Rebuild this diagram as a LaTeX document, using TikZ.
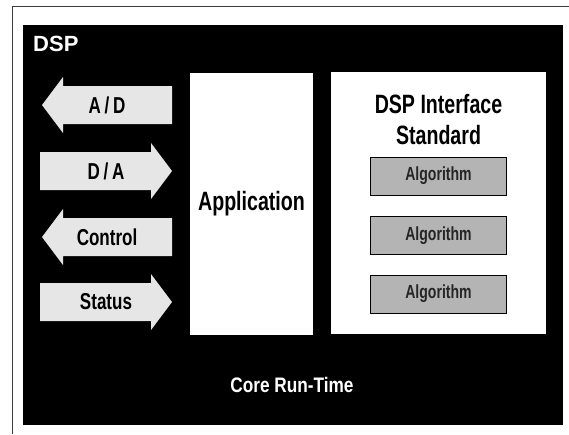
\documentclass[tikz,border=0pt]{standalone}
\usepackage{fontspec}
\setmainfont{Liberation Sans}
\newfontfamily\narrowsf{Liberation Sans}[FakeStretch=0.74]
\newfontfamily\coresf{Liberation Sans}[FakeStretch=0.82]
\usepackage{tikz}
\usetikzlibrary{positioning}
\definecolor{panel}{HTML}{000000}
\definecolor{paper}{HTML}{FFFFFF}
\definecolor{speckle}{HTML}{E6E6E6}
\definecolor{algogray}{HTML}{B4B4B4}
\definecolor{frameline}{HTML}{3C3C3C}
\tikzset{
  layerbox/.style={
    rectangle, fill=#1, draw=none, inner sep=0pt
  },
  layerbox/.default=paper,
  algobox/.style={
    rectangle, draw=black, fill=algogray, thin,
    minimum width=136pt, minimum height=38pt,
    font=\narrowsf\bfseries\fontsize{19}{21}\selectfont,
    text=black!85, inner sep=0pt
  },
  ioarrow/.style={
    fill=speckle, draw=none
  },
  iolabel/.style={
    font=\narrowsf\bfseries\fontsize{23}{25}\selectfont,
    inner sep=0pt
  },
  titletext/.style={
    font=\narrowsf\bfseries\fontsize{#1}{31}\selectfont,
    inner sep=0pt, align=center
  },
  titletext/.default=26.5,
}

\begin{document}
\begin{tikzpicture}[x=1pt, y=-1pt]
  \useasboundingbox (0,0) rectangle (569,434);
  \draw[frameline, line width=1pt] (12,434) -- (12,6) -- (569,6);

  % processor
  \node[layerbox=panel, minimum width=540pt, minimum height=400pt]
    (dsp) at (293,225) {};
  \node[font=\bfseries\fontsize{22}{24}\selectfont, text=white,
    inner sep=0pt, anchor=north west] (dsplabel) at (33,36) {DSP};
  \node[font=\coresf\bfseries\fontsize{21}{23}\selectfont, text=white,
    inner sep=0pt] (core) at (292,385) {Core Run-Time};

  % i/o arrows
  \foreach \c in {105,237}
    \fill[ioarrow] (42,\c) -- (63,\c-28) -- (63,\c-19) -- (172,\c-19)
      -- (172,\c+19) -- (63,\c+19) -- (63,\c+28) -- cycle;
  \foreach \c in {171,302}
    \fill[ioarrow] (172,\c) -- (151,\c-28) -- (151,\c-19) -- (40,\c-19)
      -- (40,\c+19) -- (151,\c+19) -- (151,\c+28) -- cycle;
  \node[iolabel] (ad) at (107,105) {A\,/\,D};
  \node[iolabel] (da) at (106,171) {D\,/\,A};
  \node[iolabel] (ctrl) at (107,237) {Control};
  \node[iolabel] (stat) at (106,302) {Status};

  % application and standard
  \node[layerbox, minimum width=123pt, minimum height=262pt,
    titletext] (app) at (251.5,204) {Application};
  \node[layerbox, minimum width=215pt, minimum height=262pt]
    (std) at (438.5,203) {};
  \node[titletext, below=22pt of std.north] (stdtitle)
    {DSP Interface\\Standard};

  \node[algobox, below=85pt of std.north] (alg1) {Algorithm};
  \node[algobox, below=21pt of alg1] (alg2) {Algorithm};
  \node[algobox, below=20pt of alg2] (alg3) {Algorithm};
\end{tikzpicture}
\end{document}
